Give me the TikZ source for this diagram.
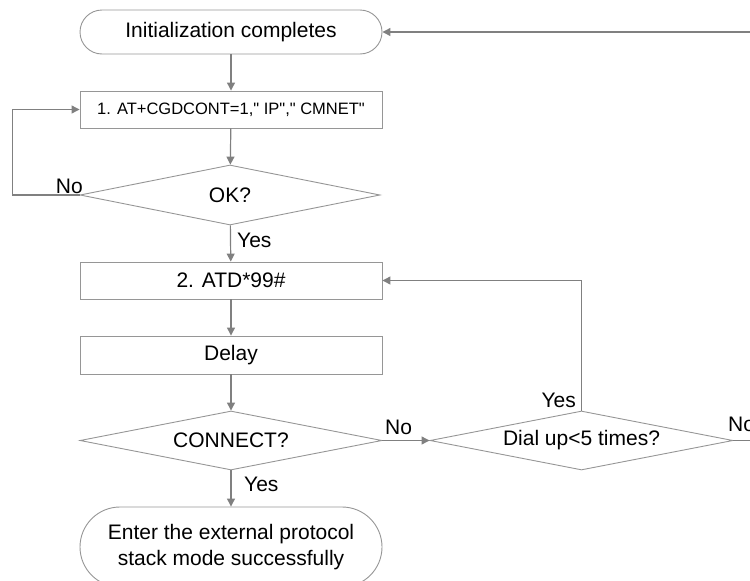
\documentclass[tikz,border=0pt]{standalone}
\usepackage{fontspec}
\setmainfont{Liberation Sans}[Ligatures=TeXOff]
\usetikzlibrary{shapes.geometric,arrows.meta}
\definecolor{linegray}{RGB}{128,128,128}
\definecolor{boxgray}{RGB}{150,150,150}
\begin{document}
\begin{tikzpicture}[x=1pt,y=-1pt,
  line/.style={draw=linegray, line width=1.2pt},
  arr/.style={line, -{Triangle[length=8pt,width=8pt]}},
  shp/.style={draw=boxgray, line width=0.9pt, inner sep=0pt, text=black,
    font=\fontsize{21}{26}\selectfont},
  box/.style={shp, rectangle, minimum width=302pt, minimum height=37pt},
  term/.style={shp, rectangle, minimum width=302pt},
  dia/.style={shp, diamond, aspect=5, minimum width=302pt, minimum height=59pt},
  lbl/.style={inner sep=0pt, font=\fontsize{21}{26}\selectfont, text=black}
]
\useasboundingbox (0,0) rectangle (750,581);
\clip (0,0) rectangle (750,581);

\node[term, minimum height=44pt, rounded corners=22pt] (start) at (231,32) {Initialization completes};
\node[box, font=\fontsize{16.5}{20}\selectfont] (b1) at (231,109.5) {1. AT+CGDCONT=1,"~IP","~CMNET"};
\node[dia, minimum width=300pt, minimum height=60pt] (ok) at (230,195) {OK?};
\node[box] (b2) at (231,280.5) {2. ATD*99\#};
\node[box, minimum height=38pt] (delay) at (231,355) {Delay};
\node[dia] (con) at (231,440.5) {CONNECT?};
\node[dia, minimum width=303pt] (dial) at (581.5,440.5) {Dial up<5 times?};
\node[term, minimum height=80pt, rounded corners=40pt, align=center] (endt) at (231,547) {Enter the external protocol\\stack mode successfully};

\coordinate (topR) at (760,32);
\coordinate (rightR) at (760,440.5);

\draw[arr] (start) -- (b1);
\draw[arr] (b1) -- (ok);
\draw[arr] (ok.west) -- ++(-67,0) |- (b1.west);
\draw[arr] (ok) -- (b2);
\draw[arr] (b2) -- (delay);
\draw[arr] (delay) -- (con);
\draw[arr] (con) -- (endt);
\draw[arr] (con.east) -- (dial.west);
\draw[arr] (dial.north) |- (b2.east);
\draw[line] (dial.east) -- (rightR);
\draw[arr] (topR) -- (start.east);

\node[lbl, anchor=south east] (lno1) at (83,194) {No};
\node[lbl, anchor=south west] (lyes1) at (237,248) {Yes};
\node[lbl, anchor=south west] (lyes2) at (244,492) {Yes};
\node[lbl, anchor=south west] (lno2) at (385,435) {No};
\node[lbl, anchor=south east] (lyes3) at (576,408) {Yes};
\node[lbl, anchor=south west] (lno3) at (728,432) {No};
\end{tikzpicture}
\end{document}
